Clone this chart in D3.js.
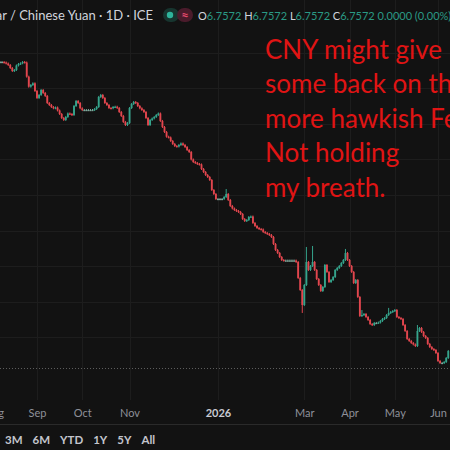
<!DOCTYPE html>
<html>
<head>
<meta charset="utf-8">
<script src="https://cdn.jsdelivr.net/npm/d3@7"></script>
<style>
  html, body { margin: 0; padding: 0; background: #121212; overflow: hidden; }
  svg { display: block; }
</style>
</head>
<body>
<svg id="chart" width="450" height="450"></svg>
<script>
// daily closes, USD/CNY, one per weekday starting at START_DATE
const START_DATE = '2025-08-06';
const closes = [
  7.1868, 7.1868, 7.1861,
  7.1847, 7.1826, 7.1784, 7.1742, 7.1756,
  7.1819, 7.1840, 7.1850, 7.1868, 7.1861,
  7.1662, 7.1521, 7.1545, 7.1569, 7.1461,
  7.1363, 7.1405, 7.1475, 7.1433, 7.1391,
  7.1292, 7.1264, 7.1236, 7.1218, 7.1229,
  7.1187, 7.1138, 7.1082, 7.1054, 7.1096,
  7.1145, 7.1138, 7.1124, 7.1250, 7.1320,
  7.1292, 7.1218, 7.1194, 7.1194, 7.1194,
  7.1194, 7.1194, 7.1194, 7.1208, 7.1236,
  7.1377, 7.1405, 7.1363, 7.1292, 7.1264,
  7.1222, 7.1218, 7.1236, 7.1240, 7.1222,
  7.1166, 7.1110, 7.1026, 7.0983, 7.1012,
  7.1222, 7.1278, 7.1306, 7.1292, 7.1250,
  7.1218, 7.1194, 7.1166, 7.1082, 7.0983,
  7.1054, 7.1075, 7.1096, 7.1124, 7.1145,
  7.1040, 7.0955, 7.0885, 7.0819, 7.0808,
  7.0759, 7.0717, 7.0688, 7.0681, 7.0703,
  7.0724, 7.0703, 7.0674, 7.0632, 7.0604,
  7.0499, 7.0464, 7.0450, 7.0436, 7.0429,
  7.0365, 7.0323, 7.0281, 7.0253, 7.0211,
  7.0070, 7.0014, 6.9944, 6.9944, 6.9944,
  6.9944, 6.9972, 7.0014, 6.9930, 6.9846,
  6.9811, 6.9790, 6.9776, 6.9762, 6.9733,
  6.9663, 6.9635, 6.9649, 6.9691, 6.9698,
  6.9607, 6.9565, 6.9537, 6.9523, 6.9516,
  6.9481, 6.9467, 6.9453, 6.9438, 6.9410,
  6.9312, 6.9228, 6.9186, 6.9129, 6.9087,
  6.9080, 6.9080, 6.9080, 6.9080, 6.9080,
  6.9080, 6.9059, 6.8835, 6.8666, 6.8455,
  6.8736, 6.9059, 6.8947, 6.9003, 6.9059,
  6.8947, 6.8820, 6.8736, 6.8652, 6.8708,
  6.9017, 6.8919, 6.8778, 6.8806, 6.8848,
  6.8947, 6.8975, 6.9003, 6.9045, 6.9087,
  6.9186, 6.9087, 6.9003, 6.8919, 6.8764,
  6.8806, 6.8568, 6.8301, 6.8315, 6.8329,
  6.8287, 6.8245, 6.8188, 6.8174, 6.8203,
  6.8203, 6.8209, 6.8231, 6.8259, 6.8273,
  6.8315, 6.8343, 6.8357, 6.8371, 6.8385,
  6.8287, 6.8273, 6.8259, 6.8174, 6.8090,
  6.7978, 6.7950, 6.7922, 6.7901, 6.7879,
  6.8090, 6.8132, 6.8076, 6.8020, 6.7992,
  6.7908, 6.7865, 6.7837, 6.7823, 6.7781,
  6.7669, 6.7641, 6.7641, 6.7655, 6.7711,
  6.7809
];
// wicks that stick out beyond the bodies
const wickHighs = {
  '2026-01-07': 7.0070,
  '2026-03-03': 6.9256,
  '2026-03-06': 6.9270,
  '2026-03-30': 6.9228,
  '2026-04-09': 6.8370,
  '2026-04-28': 6.8400,
  '2026-05-18': 6.8160
};
const wickLows = {
  '2026-02-27': 6.8357
};

const tickDates = ['2025-08-01', '2025-09-01', '2025-10-01', '2025-11-03',
  '2026-01-01', '2026-03-02', '2026-04-01', '2026-05-01', '2026-06-01'];
const tickLabels = ['Aug', 'Sep', 'Oct', 'Nov', '2026', 'Mar', 'Apr', 'May', 'Jun'];
const gridPrices = [6.80, 6.85, 6.90, 6.95, 7.00, 7.05, 7.10, 7.15, 7.20];
const lastPrice = 6.7572;

const titleText = 'U.S. Dollar / Chinese Yuan \u00b7 1D \u00b7 ICE';
const ohlcLabels = ['O', 'H', 'L', 'C'];
const ohlcValues = ['6.7572', '6.7572', '6.7572', '6.7572'];
const changeText = '0.0000 (0.00%)';
const noteLines = ['CNY might give', 'some back on the', 'more hawkish Fed.',
  'Not holding', 'my breath.'];
const rangeButtons = ['3M', '6M', 'YTD', '1Y', '5Y', 'All'];

const WIDTH = 450;
const PANE_BOTTOM = 400;
const UP_COLOR = '#35a48c';
const DOWN_COLOR = '#e2464e';
const FLAT_COLOR = '#7fa89c';
const GRID_COLOR = '#1d1d1d';
const FONT = 'Lato, "Open Sans", sans-serif';

const parseDate = d3.utcParse('%Y-%m-%d');
const fmtDate = d3.utcFormat('%Y-%m-%d');
const isWeekday = d => d.getUTCDay() !== 0 && d.getUTCDay() !== 6;
const start = parseDate(START_DATE);

/**
 * Trading-day index of a date, counted from START_DATE (negative before it).
 * @param {!Date} date
 * @return {number}
 */
function tradingIndex(date) {
  if (date >= start) return d3.utcDays(start, date).filter(isWeekday).length;
  return -d3.utcDays(date, start).filter(isWeekday).length;
}

// build the candles: each one opens at the previous close
const dates = [];
for (let d = start; dates.length < closes.length; d = d3.utcDay.offset(d, 1)) {
  if (isWeekday(d)) dates.push(d);
}
const candles = closes.map((c, i) => {
  const o = i === 0 ? c : closes[i - 1];
  const key = fmtDate(dates[i]);
  return {
    i: i,
    open: o,
    close: c,
    high: Math.max(o, c, wickHighs[key] || -Infinity),
    low: Math.min(o, c, wickLows[key] || Infinity),
  };
});

const x = d3.scaleLinear()
    .domain([tradingIndex(parseDate('2025-09-01')), tradingIndex(parseDate('2026-06-01'))])
    .range([37, 438]);
const y = d3.scaleLinear().domain([6.75, 7.20]).range([373, 52.6]);
const barWidth = (x(1) - x(0)) * 0.9;
const tickIdx = tickDates.map(d => tradingIndex(parseDate(d)));

const svg = d3.select('#chart');
svg.append('rect').attr('width', WIDTH).attr('height', 450).attr('fill', '#121212');

// grid
svg.append('g').selectAll('line').data(gridPrices).join('line')
    .attr('x1', 0).attr('x2', WIDTH)
    .attr('y1', d => Math.round(y(d)) + 0.5).attr('y2', d => Math.round(y(d)) + 0.5)
    .attr('stroke', GRID_COLOR);
svg.append('g').selectAll('line').data(tickIdx).join('line')
    .attr('x1', d => Math.round(x(d)) + 0.5).attr('x2', d => Math.round(x(d)) + 0.5)
    .attr('y1', 0).attr('y2', PANE_BOTTOM)
    .attr('stroke', GRID_COLOR);

// last price line
svg.append('line')
    .attr('x1', 0).attr('x2', WIDTH)
    .attr('y1', Math.round(y(lastPrice)) + 0.5).attr('y2', Math.round(y(lastPrice)) + 0.5)
    .attr('stroke', '#5d5d5d').attr('stroke-dasharray', '1,2');

// candles
const colorOf = d => d.close === d.open ? FLAT_COLOR :
    (d.close > d.open ? UP_COLOR : DOWN_COLOR);
const candleG = svg.append('g');
candleG.selectAll('line').data(candles).join('line')
    .attr('x1', d => x(d.i)).attr('x2', d => x(d.i))
    .attr('y1', d => y(d.high) - 1).attr('y2', d => y(d.low) + 1)
    .attr('stroke', colorOf).attr('stroke-width', 1);
candleG.selectAll('rect').data(candles).join('rect')
    .attr('x', d => x(d.i) - barWidth / 2)
    .attr('width', barWidth)
    .attr('y', d => y(Math.max(d.open, d.close)))
    .attr('height', d => Math.max(1.2, Math.abs(y(d.open) - y(d.close))))
    .attr('fill', colorOf);

// time axis
const axis = svg.append('g')
    .attr('transform', `translate(0, ${PANE_BOTTOM})`)
    .call(d3.axisBottom(x).tickValues(tickIdx).tickSize(0)
        .tickFormat((d, i) => tickLabels[i]));
axis.select('.domain').remove();
axis.selectAll('text')
    .attr('y', 17)
    .attr('dy', 0)
    .attr('font-family', FONT)
    .attr('font-size', 11)
    .attr('fill', (d, i) => tickLabels[i] === '2026' ? '#c9cbd2' : '#8e9099')
    .attr('font-weight', (d, i) => tickLabels[i] === '2026' ? 700 : 400);

svg.append('line')
    .attr('x1', 0).attr('x2', WIDTH).attr('y1', 424.5).attr('y2', 424.5)
    .attr('stroke', '#2a2a2a');

// range buttons
let bx = 5;
rangeButtons.forEach(label => {
  const t = svg.append('text')
      .attr('x', bx).attr('y', 444)
      .attr('font-family', FONT).attr('font-size', 11.5).attr('font-weight', 700)
      .attr('fill', '#c3c5cc')
      .text(label);
  bx += t.node().getComputedTextLength() + 10;
});

// header
svg.append('text')
    .attr('x', 153).attr('y', 20)
    .attr('text-anchor', 'end')
    .attr('font-family', FONT).attr('font-size', 13)
    .attr('fill', '#d1d4dc')
    .text(titleText);

svg.append('rect').attr('x', 163).attr('y', 8).attr('width', 16).attr('height', 14)
    .attr('rx', 7).attr('fill', '#17352f');
svg.append('circle').attr('cx', 170).attr('cy', 15).attr('r', 3.2).attr('fill', '#2fb39b');
svg.append('rect').attr('x', 177).attr('y', 8).attr('width', 16).attr('height', 14)
    .attr('rx', 7).attr('fill', '#4a1b2b');
svg.append('text').attr('x', 185).attr('y', 19.5).attr('text-anchor', 'middle')
    .attr('font-family', FONT).attr('font-size', 13).attr('font-weight', 700)
    .attr('fill', '#e2486c').text('\u2248');

const ohlc = svg.append('text')
    .attr('x', 198).attr('y', 20)
    .attr('font-family', FONT).attr('font-size', 11);
ohlcLabels.forEach((l, i) => {
  ohlc.append('tspan').attr('fill', '#d1d4dc').text(l);
  ohlc.append('tspan').attr('fill', '#2a9a85').text(ohlcValues[i] + ' ');
});
ohlc.append('tspan').attr('fill', '#2a9a85').text(changeText);

// annotation
svg.append('g').selectAll('text').data(noteLines).join('text')
    .attr('x', 265)
    .attr('y', (d, i) => 58.5 + i * 34.6)
    .attr('font-family', FONT)
    .attr('font-size', 26)
    .attr('fill', '#e01414')
    .text(d => d);
</script>
</body>
</html>
